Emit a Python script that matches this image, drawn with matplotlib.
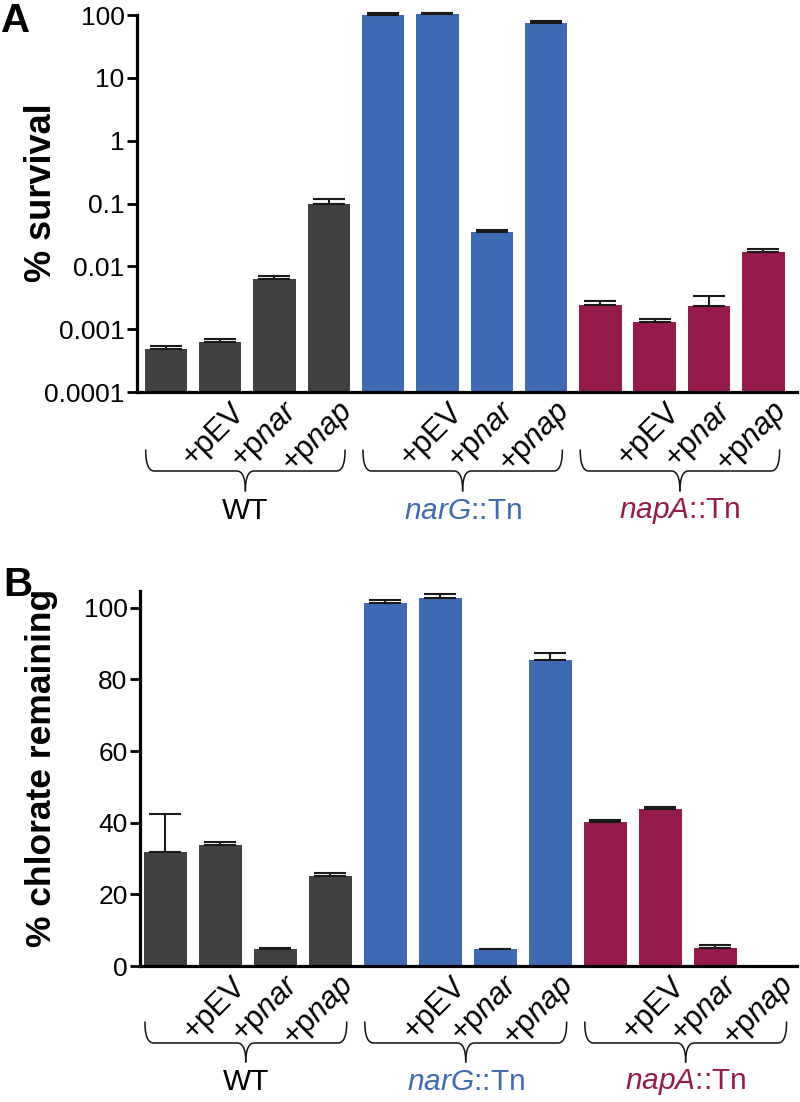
import numpy as np
import matplotlib
matplotlib.use("Agg")
import matplotlib.pyplot as plt
from matplotlib import transforms
from matplotlib.lines import Line2D

plt.rcParams['font.family'] = ['Liberation Sans', 'DejaVu Sans']
plt.rcParams['mathtext.fontset'] = 'custom'
plt.rcParams['mathtext.rm'] = 'Liberation Sans'
plt.rcParams['mathtext.it'] = 'Liberation Sans:italic'
plt.rcParams['mathtext.bf'] = 'Liberation Sans:bold'

# ---------------- data ----------------
groups = ["WT", r"$\it{narG}$::Tn", r"$\it{napA}$::Tn"]
group_colors = ["#414141", "#3D6AB2", "#941B4C"]
sub_labels = ["", "+pEV", r"+p$\it{nar}$", r"+p$\it{nap}$"]

survival_mean = [0.00049, 0.00063, 0.0063, 0.100,
                 100.0, 104.0, 0.0348, 74.0,
                 0.00244, 0.0013, 0.0023, 0.0169]
survival_err = [0.00004, 0.00007, 0.0006, 0.016,
                7.0, 3.0, 0.0036, 5.0,
                0.0004, 0.00014, 0.0011, 0.0017]

chlorate_mean = [31.7, 33.9, 4.65, 25.2,
                 101.4, 102.7, 4.65, 85.3,
                 40.1, 43.7, 5.1, 0.0]
chlorate_err = [10.6, 0.8, 0.3, 0.7,
                0.7, 1.2, 0.2, 2.0,
                0.8, 0.6, 0.76, 0.0]

survival_ticks = [0.0001, 0.001, 0.01, 0.1, 1, 10, 100]
survival_ticklabels = ["0.0001", "0.001", "0.01", "0.1", "1", "10", "100"]
chlorate_ticks = [0, 20, 40, 60, 80, 100]

# ---------------- figure ----------------
W, H = 800, 1102
fig = plt.figure(figsize=(W / 100, H / 100), dpi=100)

def axes_px(left, top, right, bottom):
    return fig.add_axes([left / W, 1 - bottom / H, (right - left) / W, (bottom - top) / H])

axA = axes_px(137, 15, 797, 392)
axB = axes_px(140, 591, 797, 966)

n_per = len(sub_labels)
xpos = np.arange(len(survival_mean))
colors = [group_colors[i // n_per] for i in range(len(survival_mean))]

TICK_FS = 19
SUB_FS = 22
GROUP_FS = 21.5
LABEL_FS = 25.5


def style_axes(ax):
    for s in ['top', 'right']:
        ax.spines[s].set_visible(False)
    ax.spines['left'].set_linewidth(2.3)
    ax.spines['bottom'].set_linewidth(2.3)
    ax.spines['bottom'].set_zorder(4)
    ax.tick_params(axis='y', length=7, width=2.0, labelsize=TICK_FS, pad=2)
    ax.tick_params(axis='x', length=0, labelbottom=False)
    ax.tick_params(axis='y', which='minor', length=0)


def draw_panel(ax, means, errs, base):
    means = np.asarray(means)
    errs = np.asarray(errs)
    bars = ax.bar(xpos, means - base, bottom=base, width=0.78, color=colors,
                  edgecolor='none', zorder=2)
    for b in bars:
        b.set_clip_on(False)
    mask = means > 0
    cont = ax.errorbar(xpos[mask], means[mask], yerr=[np.zeros(mask.sum()), errs[mask]],
                       fmt='none', ecolor='#1a1a1a', elinewidth=1.5, capsize=11.5,
                       capthick=1.5, zorder=3)
    for art in cont.get_children():
        art.set_clip_on(False)


def decorate_below(ax, axis_h_px, y_end_px, y_line_px, y_tip_px, y_lab_px):
    blend = transforms.blended_transform_factory(ax.transData, ax.transAxes)
    f = lambda px: -px / axis_h_px
    # rotated sub-labels
    off = transforms.ScaledTranslation(10 / 100, -5 / 100, fig.dpi_scale_trans)
    for i, x in enumerate(xpos):
        lab = sub_labels[i % n_per]
        if lab:
            ax.text(x, 0, lab, transform=blend + off, rotation=45,
                    rotation_mode='anchor', ha='right', va='top',
                    fontsize=SUB_FS, clip_on=False)
    # braces and group names
    for g in range(len(groups)):
        x0 = g * n_per - 0.37
        x1 = g * n_per + 3.30
        xc = (x0 + x1) / 2
        r = 0.16
        y_end, y_line, y_tip = f(y_end_px), f(y_line_px), f(y_tip_px)
        t = np.linspace(0, 1, 20)

        def bez(p0, p1, p2):
            return ((1 - t) ** 2)[:, None] * np.array(p0) + \
                   (2 * (1 - t) * t)[:, None] * np.array(p1) + \
                   (t ** 2)[:, None] * np.array(p2)

        segs = [
            bez((x0, y_end), (x0, y_line), (x0 + r, y_line)),
            bez((xc - r, y_line), (xc, y_line), (xc, y_tip)),
        ]
        left = np.vstack([segs[0], [[xc - r, y_line]], segs[1]])
        right = left.copy()
        right[:, 0] = 2 * xc - right[:, 0]
        for pts in (left, right):
            ax.add_line(Line2D(pts[:, 0], pts[:, 1], transform=blend, color='#111111',
                               lw=1.1, clip_on=False, solid_capstyle='round'))
        ax.text(xc, f(y_lab_px), groups[g], transform=blend, ha='center', va='center',
                fontsize=GROUP_FS, color=group_colors[g] if g > 0 else 'black',
                clip_on=False)


# ---- Panel A ----
axA.set_yscale('log')
draw_panel(axA, survival_mean, survival_err, base=1e-4)
axA.set_ylim(1e-4, 100)
axA.set_yticks(survival_ticks)
axA.set_yticklabels(survival_ticklabels)
axA.set_xlim(-0.53, 11.62)
style_axes(axA)
decorate_below(axA, 377, 58, 79, 99, 119)

# ---- Panel B ----
draw_panel(axB, chlorate_mean, chlorate_err, base=0.0)
axB.set_ylim(0, 104.7)
axB.set_yticks(chlorate_ticks)
axB.set_xlim(-0.46, 11.49)
style_axes(axB)
decorate_below(axB, 375, 56, 77, 96, 116)

# axis titles
fig.text(42 / W, 1 - 193 / H, "% survival", rotation=90, ha='center', va='center',
         fontsize=LABEL_FS + 0.5, fontweight='bold')
fig.text(42 / W, 1 - 768 / H, "% chlorate remaining", rotation=90, ha='center',
         va='center', fontsize=LABEL_FS, fontweight='bold')

# panel letters
fig.text(1 / W, 1 - 2 / H, "A", ha='left', va='top', fontsize=29, fontweight='bold')
fig.text(3 / W, 1 - 566 / H, "B", ha='left', va='top', fontsize=29, fontweight='bold')

fig.savefig("out.png", dpi=100)
